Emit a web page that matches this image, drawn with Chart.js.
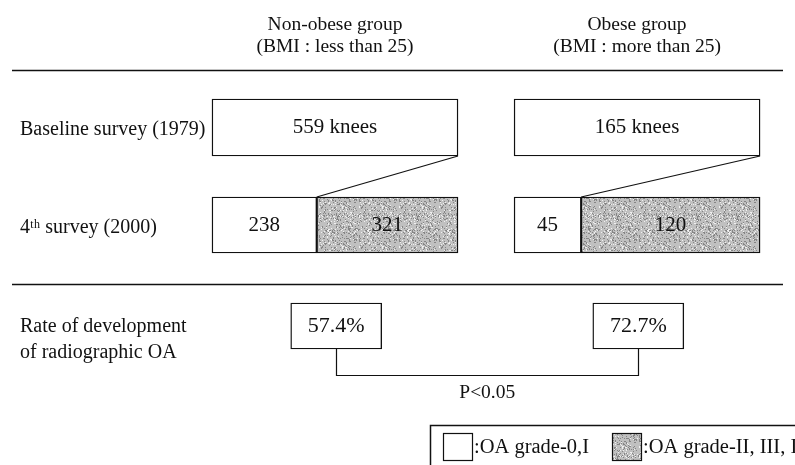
<!DOCTYPE html>
<html lang="en">
<head>
  <meta charset="UTF-8"/>
  <title>Radiographic knee OA: non-obese vs obese group</title>
  <script src="https://cdn.jsdelivr.net/npm/chart.js"></script>
  <style>
    html, body { margin: 0; padding: 0; background: #fff; }
    #wrap { width: 795px; height: 465px; }
  </style>
</head>
<body>
  <div id="wrap"><canvas id="oaChart"></canvas></div>

  <script>
    // data
    const groups        = ["Non-obese group", "Obese group"];
    const groupNotes    = ["(BMI : less than 25)", "(BMI : more than 25)"];
    const rowLabels     = ["Baseline survey (1979)", "4ᵗʰ survey (2000)", ["Rate of development", "of radiographic OA"]];
    const baselineKnees = [559, 165];
    const grade0to1     = [238, 45];
    const grade2to4     = [321, 120];
    const devRate       = [57.4, 72.7];
    const pLabel        = "P<0.05";
    const legendLabels  = [":OA grade-0,I", ":OA grade-II, III, IV"];

    // layout (row units on y, % of a group box on x)
    const rowPos     = [1, 2, 3.036];
    const labelPos   = [1.026, 2.031, 3.179];
    const headerPos  = [-0.051, 0.17];
    const rulePos    = [0.41, 2.61];
    const bracketPos = 3.538;
    const pTextPos   = 3.723;
    const groupStart = [0, 122.8];
    const rateCenter = 50.5;
    const rateHalf   = 18.5;
    const FONT = '"Liberation Serif", "DejaVu Serif", serif';
    const INK  = "#111111";

    // grey stipple like the printed halftone
    function makeStipple() {
      const c = document.createElement("canvas");
      c.width = c.height = 40;
      const g = c.getContext("2d");
      g.fillStyle = "#c0c0c0";
      g.fillRect(0, 0, 40, 40);
      let s = 12345;
      const next = () => (s = (Math.imul(s, 1103515245) + 12345) >>> 0) >>> 8;
      for (let i = 0; i < 480; i++) {
        const px = next() % 40, py = next() % 40;
        g.fillStyle = i % 3 ? "#858585" : "#f0f0f0";
        g.fillRect(px, py, 1, 1);
      }
      return g.createPattern(c, "repeat");
    }
    const stipple = makeStipple();

    const split = groupStart.map((s, i) => s + 100 * grade0to1[i] / (grade0to1[i] + grade2to4[i]));

    const diagram = {
      id: "diagram",
      beforeDatasetsDraw(chart) {
        const { ctx, scales: { x, y } } = chart;
        ctx.save();
        ctx.strokeStyle = INK;
        ctx.lineWidth = 1.5;
        // horizontal rules
        rulePos.forEach(r => {
          const py = Math.round(y.getPixelForValue(r)) + 0.5;
          ctx.beginPath(); ctx.moveTo(12, py); ctx.lineTo(783, py); ctx.stroke();
        });
        // group headers
        ctx.fillStyle = INK;
        ctx.font = "19.5px " + FONT;
        ctx.textAlign = "center";
        ctx.textBaseline = "middle";
        groups.forEach((g, i) => {
          const cx = x.getPixelForValue(groupStart[i] + 50);
          ctx.fillText(g, cx, y.getPixelForValue(headerPos[0]));
          ctx.fillText(groupNotes[i], cx, y.getPixelForValue(headerPos[1]));
        });
        // baseline box -> split in 4th survey
        ctx.lineWidth = 1.2;
        const base = chart.getDatasetMeta(0).data;
        const grey = chart.getDatasetMeta(2).data;
        base.forEach((el, i) => {
          const to = grey[i];
          ctx.beginPath();
          ctx.moveTo(Math.max(el.x, el.base), el.y + el.height / 2);
          ctx.lineTo(Math.min(to.x, to.base), to.y - to.height / 2);
          ctx.stroke();
        });
        // significance bracket
        const rate = chart.getDatasetMeta(3).data;
        const by = Math.round(y.getPixelForValue(bracketPos)) + 0.5;
        const p0 = rate[0].getCenterPoint(), p1 = rate[1].getCenterPoint();
        ctx.beginPath();
        ctx.moveTo(Math.round(p0.x) + 0.5, rate[0].y + rate[0].height / 2);
        ctx.lineTo(Math.round(p0.x) + 0.5, by);
        ctx.lineTo(Math.round(p1.x) + 0.5, by);
        ctx.lineTo(Math.round(p1.x) + 0.5, rate[1].y + rate[1].height / 2);
        ctx.stroke();
        ctx.font = "19.5px " + FONT;
        ctx.fillText(pLabel, (p0.x + p1.x) / 2, y.getPixelForValue(pTextPos));
        ctx.restore();
      },
      afterDatasetsDraw(chart) {
        const { ctx } = chart;
        ctx.save();
        ctx.fillStyle = INK;
        ctx.textAlign = "center";
        ctx.textBaseline = "middle";
        chart.data.datasets.forEach((ds, d) => {
          ctx.font = (d === 3 ? "22px " : "21px ") + FONT;
          chart.getDatasetMeta(d).data.forEach((el, i) => {
            const c = el.getCenterPoint();
            ctx.fillText(String(ds.texts[i]), c.x, c.y);
          });
        });
        ctx.restore();
      },
      afterDraw(chart) {
        const { ctx } = chart;
        ctx.save();
        // legend frame (runs off the page edge)
        ctx.strokeStyle = INK;
        ctx.lineWidth = 1.5;
        ctx.beginPath();
        ctx.moveTo(430.5, 470); ctx.lineTo(430.5, 425.5); ctx.lineTo(800, 425.5);
        ctx.stroke();
        const items = [
          { fill: chart.data.datasets[1].backgroundColor, x: 443 },
          { fill: chart.data.datasets[2].backgroundColor, x: 612 }
        ];
        ctx.font = "20.5px " + FONT;
        ctx.textAlign = "left";
        ctx.textBaseline = "middle";
        items.forEach((it, i) => {
          ctx.fillStyle = it.fill;
          ctx.fillRect(it.x, 433, 29, 27);
          ctx.lineWidth = 1.2;
          ctx.strokeRect(it.x + 0.5, 433.5, 29, 27);
          ctx.fillStyle = INK;
          ctx.fillText(legendLabels[i], it.x + 31, 448);
        });
        ctx.restore();
      }
    };

    const ctx = document.getElementById("oaChart").getContext("2d");
    const chart = new Chart(ctx, {
      type: "bar",
      data: {
        datasets: [
          {
            label: "Baseline",
            data: groupStart.map(s => ({ x: [s, s + 100], y: rowPos[0] })),
            texts: baselineKnees.map(n => n + " knees"),
            backgroundColor: "#ffffff",
            barThickness: 57
          },
          {
            label: legendLabels[0],
            data: groupStart.map((s, i) => ({ x: [s, split[i]], y: rowPos[1] })),
            texts: grade0to1,
            backgroundColor: "#ffffff",
            barThickness: 56
          },
          {
            label: legendLabels[1],
            data: groupStart.map((s, i) => ({ x: [split[i], s + 100], y: rowPos[1] })),
            texts: grade2to4,
            backgroundColor: stipple,
            barThickness: 56
          },
          {
            label: "Rate",
            data: groupStart.map(s => ({ x: [s + rateCenter - rateHalf, s + rateCenter + rateHalf], y: rowPos[2] })),
            texts: devRate.map(r => r.toFixed(1) + "%"),
            backgroundColor: "#ffffff",
            barThickness: 46
          }
        ]
      },
      options: {
        indexAxis: "y",
        responsive: true,
        maintainAspectRatio: false,
        animation: false,
        layout: { padding: { left: 20, right: 0, top: 0, bottom: 0 } },
        datasets: { bar: { grouped: false, borderColor: INK, borderWidth: 1.4, borderSkipped: false } },
        plugins: { legend: { display: false }, tooltip: { enabled: false } },
        scales: {
          x: { type: "linear", display: false, min: -2.846, max: 237.0 },
          y: {
            type: "linear",
            reverse: true,
            offset: false,
            min: -0.3077,
            max: 4.4615,
            grid: { display: false },
            border: { display: false },
            afterFit: s => { s.width = 185; s.paddingTop = 0; s.paddingBottom = 0; },
            afterBuildTicks: s => { s.ticks = labelPos.map(v => ({ value: v })); },
            ticks: {
              crossAlign: "far",
              padding: 0,
              autoSkip: false,
              color: INK,
              font: { family: FONT, size: 20, lineHeight: 1.3 },
              callback: (v, i) => rowLabels[i]
            }
          }
        }
      },
      plugins: [diagram]
    });
  </script>
</body>
</html>
